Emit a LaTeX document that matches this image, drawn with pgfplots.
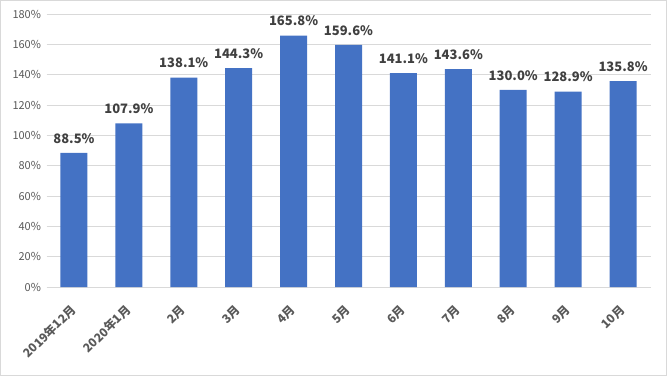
\documentclass[border=0pt]{standalone}
\usepackage{pgfplots}
\pgfplotsset{compat=1.18}
\usepackage{fontspec}
\setmainfont{Noto Sans CJK SC}
\definecolor{barblue}{HTML}{4472C4}
\definecolor{lblgray}{HTML}{404040}
\definecolor{tickgray}{HTML}{595959}
\definecolor{gridgray}{HTML}{D9D9D9}
\begin{document}
\begin{tikzpicture}
\useasboundingbox (0,0) rectangle (667pt,376pt);
\draw[gridgray, line width=1pt] (0.5pt,0.5pt) rectangle (666.5pt,375.5pt);
\begin{axis}[
  at={(46.5pt,89pt)}, anchor=south west,
  scale only axis, width=604pt, height=273pt,
  ybar, bar width=27pt,
  xmin=-0.5, xmax=10.5, ymin=0, ymax=180,
  ytick={0,20,...,180},
  yticklabel={\pgfmathprintnumber{\tick}\%},
  /pgf/number format/assume math mode=true,
  xtick=data,
  xticklabels={2019年12月,2020年1月,2月,3月,4月,5月,6月,7月,8月,9月,10月},
  xticklabel style={xshift=2pt, yshift=-18pt, rotate=45, anchor=east, font=\bfseries\fontsize{12pt}{12pt}\selectfont, text=tickgray},
  yticklabel style={font=\fontsize{11pt}{11pt}\selectfont, text=tickgray, xshift=-2pt},
  major tick length=0pt,
  ymajorgrids, grid style={gridgray, line width=1pt},
  axis x line*=bottom, axis y line*=left,
  x axis line style={gridgray, line width=1pt, -},
  y axis line style={draw=none},
  enlargelimits=false, clip=false,
  nodes near coords={\pgfmathprintnumber[fixed,fixed zerofill,precision=1]{\pgfplotspointmeta}\%},
  nodes near coords style={font=\bfseries\fontsize{13pt}{13pt}\selectfont, text=lblgray, yshift=6pt},
]
\addplot[fill=barblue, draw=none] coordinates {
(0,88.5) (1,107.9) (2,138.1) (3,144.3) (4,165.8) (5,159.6)
(6,141.1) (7,143.6) (8,130.0) (9,128.9) (10,135.8)};
\end{axis}
\end{tikzpicture}
\end{document}
